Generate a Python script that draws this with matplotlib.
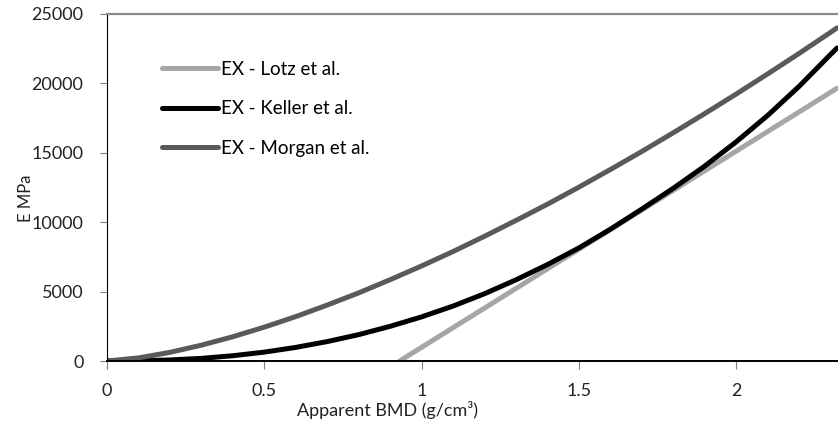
import matplotlib
matplotlib.use("Agg")
import matplotlib.pyplot as plt

plt.rcParams["font.family"] = ["Lato", "DejaVu Sans"]

# apparent BMD (g/cm3) sample points
bmd = [0.0, 0.1, 0.2, 0.3, 0.4, 0.5, 0.6, 0.7, 0.8, 0.9, 1.0, 1.1, 1.2,
       1.3, 1.4, 1.5, 1.6, 1.7, 1.8, 1.9, 2.0, 2.1, 2.2, 2.3, 2.32]

# E (MPa)
keller = [0, 15, 75, 190, 380, 640, 980, 1400, 1900, 2500, 3180, 3960, 4850,
          5850, 6950, 8150, 9500, 10950, 12450, 14050, 15800, 17700, 19800,
          22100, 22550]
morgan = [0, 222, 623, 1140, 1750, 2440, 3200, 4030, 4910, 5860, 6850, 7890,
          8990, 10130, 11300, 12530, 13800, 15100, 16450, 17830, 19240, 20690,
          22170, 23690, 24000]
lotz_bmd = [0.93, 2.32]
lotz = [0, 19650]

labels = ["EX - Lotz et al.", "EX - Keller et al.", "EX - Morgan et al."]
xticks = [0, 0.5, 1, 1.5, 2]
yticks = [0, 5000, 10000, 15000, 20000, 25000]

fig = plt.figure(figsize=(8.38, 4.23), dpi=100)
ax = fig.add_axes([107 / 838, 62 / 423, 731 / 838, 347 / 423])

ax.plot(lotz_bmd, lotz, color="#a6a6a6", lw=3.6, solid_capstyle="round", label=labels[0])
ax.plot(bmd, keller, color="black", lw=3.6, solid_capstyle="round", label=labels[1])
ax.plot(bmd, morgan, color="#5a5a5a", lw=3.6, solid_capstyle="round", label=labels[2])

ax.set_xlim(0, 2.323)
ax.set_ylim(0, 25000)
ax.set_xticks(xticks)
ax.set_xticklabels(["0", "0.5", "1", "1.5", "2"])
ax.set_yticks(yticks)

ax.spines["right"].set_visible(False)
ax.spines["top"].set_color("#8c8c8c")
ax.spines["top"].set_linewidth(1.6)
ax.spines["left"].set_color("black")
ax.spines["bottom"].set_color("black")
ax.spines["bottom"].set_linewidth(1.4)

ax.tick_params(axis="y", length=5, color="#808080", labelsize=13, pad=12, labelcolor="#222222")
ax.tick_params(axis="x", length=6, color="#808080", labelsize=13, pad=10, labelcolor="#222222")

ax.set_ylabel("E MPa", fontsize=12, color="#222222")
ax.yaxis.set_label_coords((34 - 107) / 731, 0.47)
ax.set_xlabel("Apparent BMD (g/cm³)", fontsize=13, color="#222222")
ax.xaxis.set_label_coords((387 - 107) / 731, (361 - 401) / 347)

ax.legend(loc="upper left", bbox_to_anchor=(55 / 731, (361 - 61) / 347),
          frameon=False, fontsize=13.5, handlelength=3.0, handletextpad=0.16,
          labelspacing=1.2, borderaxespad=0, borderpad=0)

fig.savefig("out.png", dpi=100)
